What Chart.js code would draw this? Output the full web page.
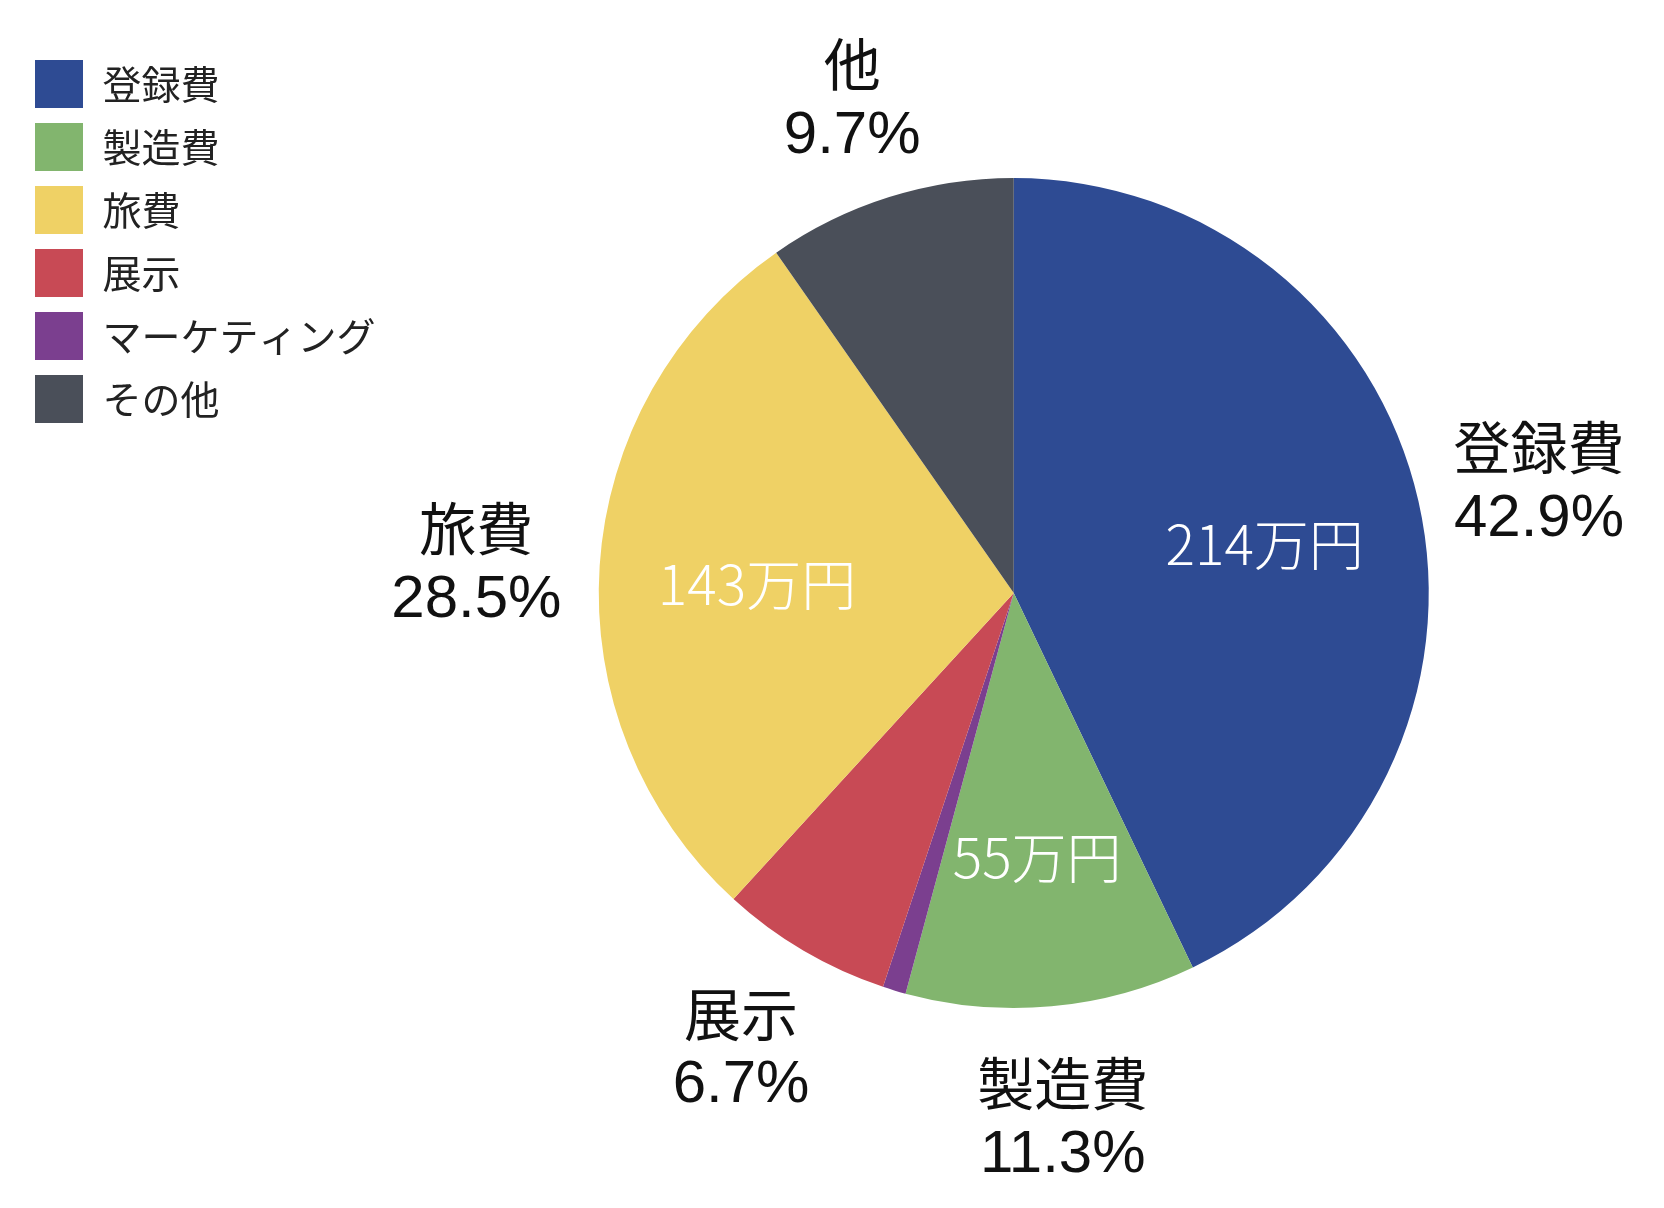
<!DOCTYPE html>
<html>
<head>
<meta charset="utf-8">
<script src="https://cdn.jsdelivr.net/npm/chart.js@4.4.0/dist/chart.umd.min.js"></script>
<style>
  html, body { margin: 0; padding: 0; background: #fff; }
  #wrap { width: 1664px; height: 1208px; }
</style>
</head>
<body>
<div id="wrap"><canvas id="grafiek"></canvas></div>
<script>
// slices in clockwise order, starting at 12 o'clock
const labels = ['登録費', '製造費', 'マーケティング', '展示', '旅費', 'その他'];
const percents = [42.9, 11.3, 0.9, 6.7, 28.5, 9.7];
const amounts = ['214万円', '55万円', '', '', '143万円', ''];
const outerNames = ['登録費', '製造費', '', '展示', '旅費', '他'];
const colors = ['#2e4b93', '#82b56e', '#7b3f8f', '#c84a55', '#efd165', '#4a4f59'];
const legendOrder = ['登録費', '製造費', '旅費', '展示', 'マーケティング', 'その他'];

const sliceLabels = {
    id: 'sliceLabels',
    afterDatasetsDraw(chart) {
        const ctx = chart.ctx;
        chart.getDatasetMeta(0).data.forEach((arc, i) => {
            const p = arc.getProps(['x', 'y', 'startAngle', 'endAngle', 'outerRadius'], true);
            const mid = (p.startAngle + p.endAngle) / 2;
            const cos = Math.cos(mid), sin = Math.sin(mid);
            ctx.save();
            ctx.textAlign = 'center';
            ctx.textBaseline = 'middle';
            if (amounts[i]) {
                const r = p.outerRadius * 0.62;
                ctx.fillStyle = '#fff';
                ctx.font = '300 55px "Noto Sans CJK JP"';
                ctx.fillText(amounts[i], p.x + cos * r, p.y + sin * r + 8);
            }
            if (outerNames[i]) {
                const r = p.outerRadius * 1.26;
                const lx = p.x + cos * r * 1.03, ly = p.y + sin * r + 4;
                ctx.fillStyle = '#111';
                ctx.font = '57px "Noto Sans CJK JP"';
                ctx.fillText(outerNames[i], lx, ly - 34);
                ctx.font = '60px "Liberation Sans", Arial, sans-serif';
                ctx.fillText(percents[i].toFixed(1) + '%', lx, ly + 38);
            }
            ctx.restore();
        });
    }
};

new Chart(document.getElementById('grafiek'), {
    type: 'pie',
    data: {
        labels: labels,
        datasets: [{
            data: percents,
            backgroundColor: colors,
            borderWidth: 0,
            radius: 415
        }]
    },
    options: {
        responsive: true,
        maintainAspectRatio: false,
        animation: false,
        layout: { padding: { left: 20, top: 45, bottom: 67, right: 22 } },
        plugins: {
            legend: {
                position: 'left',
                align: 'start',
                labels: {
                    boxWidth: 48,
                    boxHeight: 48,
                    padding: 15,
                    color: '#222',
                    font: { size: 39, family: '"Noto Sans CJK JP"' },
                    sort: (a, b) => legendOrder.indexOf(a.text) - legendOrder.indexOf(b.text)
                }
            },
            tooltip: { enabled: false }
        }
    },
    plugins: [sliceLabels]
});
</script>
</body>
</html>
